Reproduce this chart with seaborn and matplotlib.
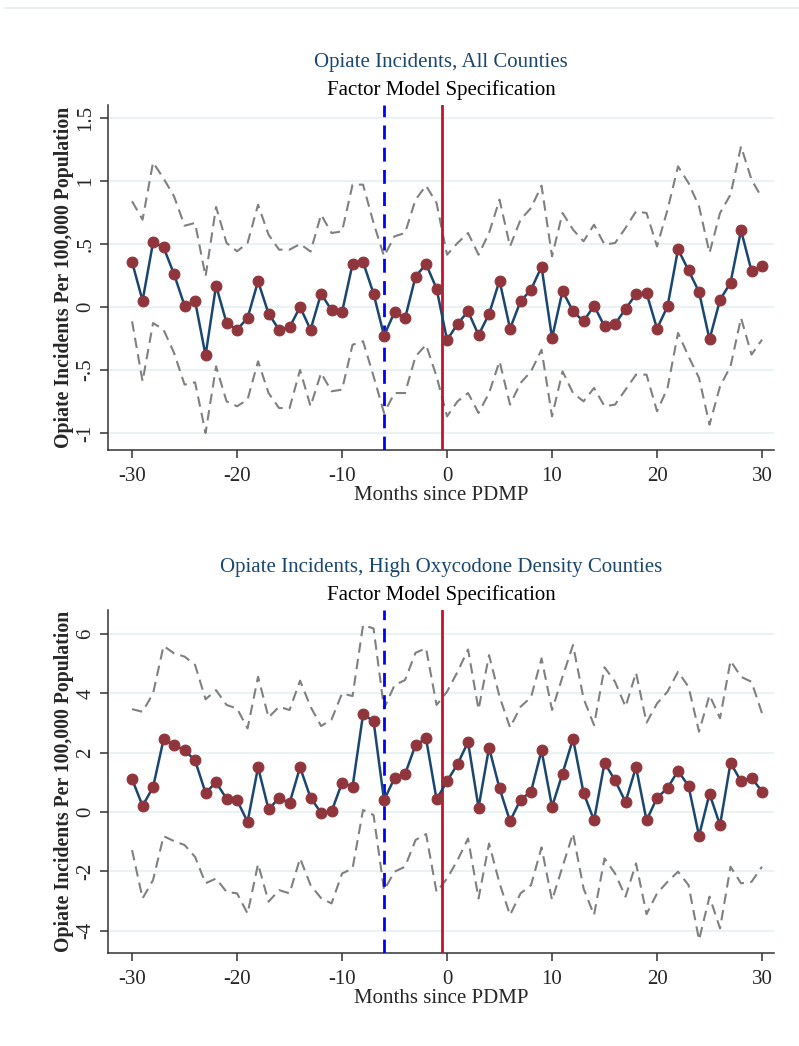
import matplotlib
matplotlib.use("Agg")
import matplotlib.pyplot as plt
from matplotlib.lines import Line2D
import numpy as np
import pandas as pd
import seaborn as sns

# Data
months = list(range(-30, 31))

all_est = [0.357, 0.05, 0.513, 0.474, 0.26, 0.01, 0.048, -0.384, 0.17, -0.127,
           -0.18, -0.087, 0.204, -0.053, -0.18, -0.161, 0.0, -0.18, 0.106, -0.026,
           -0.04, 0.341, 0.357, 0.106, -0.228, -0.04, -0.09, 0.241, 0.341, 0.146,
           -0.262, -0.135, -0.034, -0.222, -0.056, 0.209, -0.172, 0.045, 0.138, 0.32,
           -0.246, 0.127, -0.034, -0.114, 0.01, -0.153, -0.135, -0.016, 0.103, 0.111,
           -0.172, 0.005, 0.458, 0.291, 0.119, -0.257, 0.056, 0.193, 0.608, 0.286,
           0.323]
all_hi = [0.839, 0.693, 1.148, 1.02, 0.878, 0.645, 0.667, 0.243, 0.794, 0.508,
          0.442, 0.508, 0.812, 0.574, 0.455, 0.455, 0.5, 0.44, 0.733, 0.587,
          0.6, 0.971, 0.971, 0.667, 0.402, 0.561, 0.587, 0.852, 0.963, 0.825,
          0.415, 0.508, 0.587, 0.415, 0.587, 0.852, 0.481, 0.693, 0.786, 0.963,
          0.402, 0.746, 0.614, 0.521, 0.653, 0.495, 0.508, 0.627, 0.759, 0.746,
          0.481, 0.772, 1.116, 0.984, 0.799, 0.429, 0.746, 0.892, 1.275, 1.011,
          0.865]
all_lo = [-0.114, -0.59, -0.127, -0.18, -0.365, -0.616, -0.598, -1.0, -0.471, -0.749,
          -0.788, -0.735, -0.431, -0.683, -0.802, -0.802, -0.5, -0.788, -0.524, -0.669,
          -0.656, -0.3, -0.272, -0.55, -0.841, -0.683, -0.683, -0.392, -0.3, -0.55,
          -0.868, -0.749, -0.683, -0.841, -0.683, -0.431, -0.775, -0.603, -0.511, -0.339,
          -0.868, -0.511, -0.683, -0.749, -0.643, -0.788, -0.775, -0.656, -0.537, -0.537,
          -0.828, -0.643, -0.206, -0.392, -0.563, -0.934, -0.63, -0.471, -0.087, -0.378,
          -0.259]

oxy_est = [1.11, 0.21, 0.84, 2.45, 2.25, 2.09, 1.74, 0.65, 1.0, 0.45,
           0.40, -0.33, 1.51, 0.09, 0.48, 0.30, 1.51, 0.48, -0.02, 0.02,
           0.99, 0.85, 3.29, 3.07, 0.40, 1.15, 1.28, 2.26, 2.48, 0.43,
           1.04, 1.62, 2.36, 0.15, 2.17, 0.80, -0.31, 0.42, 0.69, 2.08,
           0.18, 1.30, 2.47, 0.65, -0.28, 1.66, 1.07, 0.34, 1.52, -0.28,
           0.48, 0.81, 1.39, 0.88, -0.80, 0.62, -0.44, 1.66, 1.04, 1.16,
           0.69]
oxy_hi = [3.47, 3.38, 4.0, 5.6, 5.35, 5.24, 4.96, 3.8, 4.11, 3.61,
          3.49, 2.82, 4.56, 3.19, 3.55, 3.44, 4.43, 3.55, 2.9, 3.12,
          4.0, 3.91, 6.3, 6.19, 3.49, 4.28, 4.45, 5.37, 5.52, 3.61,
          4.06, 4.73, 5.48, 3.46, 5.29, 3.89, 2.85, 3.55, 3.87, 5.18,
          3.44, 4.56, 5.63, 3.83, 2.93, 4.88, 4.39, 3.55, 4.70, 3.01,
          3.66, 4.06, 4.73, 4.22, 2.71, 3.94, 3.16, 5.10, 4.56, 4.39,
          3.33]
oxy_lo = [-1.28, -2.91, -2.29, -0.81, -0.98, -1.11, -1.51, -2.40, -2.24, -2.69,
          -2.74, -3.42, -1.75, -3.02, -2.63, -2.74, -1.56, -2.46, -2.9, -3.08,
          -2.07, -1.9, 0.07, -0.10, -2.63, -2.01, -1.84, -0.94, -0.74, -2.69,
          -2.24, -1.62, -0.89, -2.91, -1.06, -2.40, -3.47, -2.74, -2.46, -1.19,
          -2.97, -1.84, -0.72, -2.57, -3.47, -1.56, -2.07, -2.85, -1.73, -3.44,
          -2.74, -2.35, -2.01, -2.46, -4.31, -2.85, -3.92, -1.84, -2.40, -2.35,
          -1.84]

top_ticks = [-1, -0.5, 0, 0.5, 1, 1.5]
top_ticklabels = ["-1", "-.5", "0", ".5", "1", "1.5"]
bot_ticks = [-4, -2, 0, 2, 4, 6]
bot_ticklabels = ["-4", "-2", "0", "2", "4", "6"]
x_ticks = [-30, -20, -10, 0, 10, 20, 30]

panels = [
    ("Opiate Incidents, All Counties", all_est, all_lo, all_hi,
     top_ticks, top_ticklabels, (-1.135, 1.603)),
    ("Opiate Incidents, High Oxycodone Density Counties", oxy_est, oxy_lo, oxy_hi,
     bot_ticks, bot_ticklabels, (-4.75, 6.81)),
]

sns.set_style("white")
plt.rcParams['font.family'] = ['Liberation Serif', 'DejaVu Serif']

fig = plt.figure(figsize=(7.99, 10.46), dpi=100)
fig.add_artist(Line2D([5 / 799, 1], [1 - 8 / 1046, 1 - 8 / 1046],
                      color='#e3ecec', lw=1.2))

boxes = [[0.1352, 0.5698, 0.8335, 0.3298], [0.1352, 0.0889, 0.8335, 0.3279]]
grid_c = '#eaf2f3'
for box, (title, est, lo, hi, yt, ytl, ylim) in zip(boxes, panels):
    ax = fig.add_axes(box)
    df = pd.DataFrame({'month': months, 'est': est, 'lo': lo, 'hi': hi})
    for yv in yt:
        ax.axhline(yv, color=grid_c, lw=1.6, zorder=0)
    for col in ['hi', 'lo']:
        sns.lineplot(data=df, x='month', y=col, ax=ax, color='#808080', lw=1.5,
                     dashes=False, linestyle=(0, (5, 3)), zorder=2)
    ax.axvline(-6, color='#0000ff', lw=2, linestyle=(0, (5, 3)), zorder=3)
    ax.axvline(-0.5, color='#c8102e', lw=2, zorder=3)
    sns.lineplot(data=df, x='month', y='est', ax=ax, color='#1a476f', lw=1.8,
                 marker='o', markersize=7.8, markerfacecolor='#90353b',
                 markeredgecolor='#90353b', zorder=4)
    ax.set_xlim(-32.29, 31.14)
    ax.set_ylim(*ylim)
    ax.set_xticks(x_ticks)
    ax.set_xticklabels([str(t) for t in x_ticks], fontsize=15)
    ax.set_yticks(yt)
    ax.set_yticklabels(ytl, fontsize=15, rotation=90, va='center')
    ax.tick_params(axis='both', direction='out', length=6, width=1.1,
                   color='#333333', bottom=True, left=True, pad=3)
    ax.tick_params(axis='x', pad=6.5)
    for s in ['top', 'right']:
        ax.spines[s].set_visible(False)
    for s in ['left', 'bottom']:
        ax.spines[s].set_color('#333333')
        ax.spines[s].set_linewidth(1.1)
    ax.set_xlabel('Months since PDMP', fontsize=15, labelpad=0)
    ax.set_ylabel('Opiate Incidents Per 100,000 Population', fontsize=14.2,
                  fontweight='bold', labelpad=2)
    ax.text(0.5, 1.0 + 43 / 345, title, transform=ax.transAxes, ha='center',
            va='center', fontsize=15, color='#1a476f')
    ax.text(0.5, 1.0 + 15 / 345, 'Factor Model Specification', transform=ax.transAxes,
            ha='center', va='center', fontsize=15, color='black')
    ax.set_facecolor('white')

fig.savefig('out.png', dpi=100, facecolor='white')
